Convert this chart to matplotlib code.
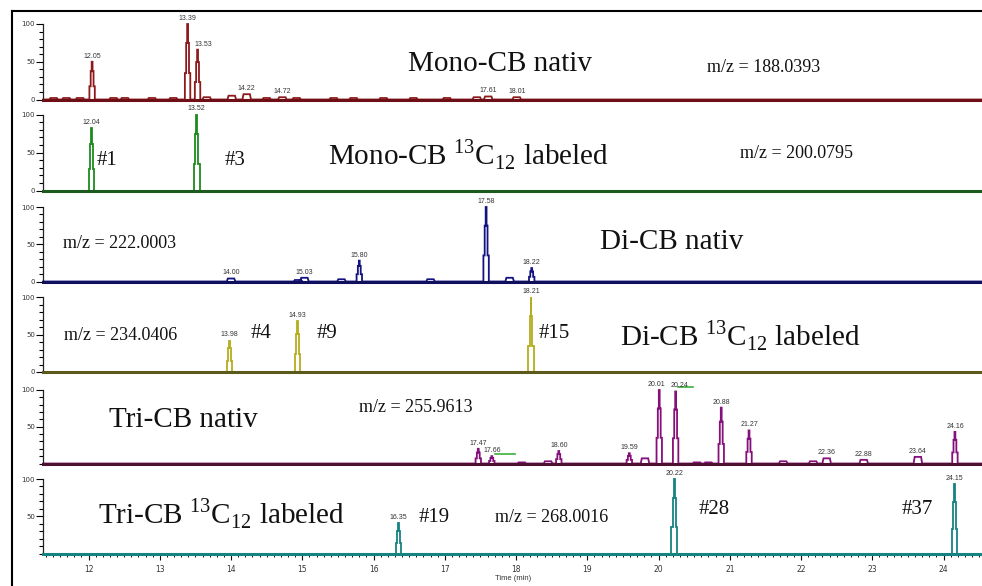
import matplotlib
matplotlib.use("Agg")
import matplotlib.pyplot as plt
from matplotlib.lines import Line2D

plt.rcParams['mathtext.fontset'] = 'custom'
plt.rcParams['mathtext.rm'] = 'Liberation Serif'

# retention times (min) and relative intensities (%)
mono_nat_rt = [12.05, 13.39, 13.53, 14.22, 14.72, 17.61, 18.01]
mono_nat_h = [50, 100, 66, 7, 3, 4, 3]
mono_nat_minor_rt = [11.51, 11.69, 11.88, 12.35, 12.51, 12.89, 13.19, 13.66, 14.01,
                     14.50, 14.92, 15.44, 15.72, 16.14, 16.56, 17.03, 17.45]
mono_nat_minor_h = [2, 2, 2, 2, 2, 2, 2, 3, 5, 2, 2, 2, 2, 2, 2, 2, 3]

mono_lab_rt = [12.04, 13.52]
mono_lab_h = [82, 100]

di_nat_rt = [14.00, 15.03, 15.80, 17.58, 18.22]
di_nat_h = [4, 5, 28, 100, 18]
di_nat_minor_rt = [14.94, 15.55, 16.80, 17.91]
di_nat_minor_h = [2, 3, 3, 5]

di_lab_rt = [13.98, 14.93, 18.21]
di_lab_h = [42, 68, 100]

tri_nat_rt = [17.47, 17.66, 18.60, 19.59, 20.01, 20.24, 20.88, 21.27, 22.36, 22.88, 23.64, 24.16]
tri_nat_h = [20, 10, 17, 14, 100, 98, 76, 45, 7, 5, 9, 43]
tri_nat_minor_rt = [18.08, 18.45, 19.81, 20.54, 20.70, 21.75, 22.17]
tri_nat_minor_h = [1.5, 3, 7, 1.5, 1.5, 3, 3]

tri_lab_rt = [16.35, 20.22, 24.15]
tri_lab_h = [41, 100, 93]

x_ticks = list(range(12, 25))

W, H = 982, 586
X0, X1 = 11.365, 24.54

# labels nudged sideways (points) where peaks crowd together
label_shift = {13.53: 4, 20.01: -2, 20.24: 3}


def fx(px):
    return px / W


def fy(py):
    return 1 - py / H


def trace(rts, hs, a=0.038, b=0.02, c=0.006):
    # stepped peaks like the detector trace; small ones become flat boxes
    xs, ys = [X0], [0]
    for t, h in sorted(zip(rts, hs)):
        if h < 10:
            xs += [t - 0.06, t - 0.045, t + 0.045, t + 0.06]
            ys += [0, h, h, 0]
        else:
            xs += [t - a, t - a, t - b, t - b, t - c, t - c,
                   t + c, t + c, t + b, t + b, t + a, t + a]
            ys += [0, 0.35 * h, 0.35 * h, 0.75 * h, 0.75 * h, h,
                   h, 0.75 * h, 0.75 * h, 0.35 * h, 0.35 * h, 0]
    xs.append(X1)
    ys.append(0)
    return xs, ys


fig = plt.figure(figsize=(W / 100, H / 100), dpi=100)

panels = [
    (24, 99.5, "#8c1a1a", "#6e0f18", mono_nat_rt, mono_nat_h, mono_nat_minor_rt, mono_nat_minor_h, True),
    (114.5, 190.5, "#1e8a1e", "#1d5a1d", mono_lab_rt, mono_lab_h, [], [], True),
    (207, 281.5, "#121280", "#0f0f5e", di_nat_rt, di_nat_h, di_nat_minor_rt, di_nat_minor_h, True),
    (297, 372, "#b4ae1e", "#5c5a1a", di_lab_rt, di_lab_h, [], [], True),
    (390, 463.5, "#86107a", "#4e1030", tri_nat_rt, tri_nat_h, tri_nat_minor_rt, tri_nat_minor_h, False),
    (479, 553.5, "#168282", "#168282", tri_lab_rt, tri_lab_h, [], [], False),
]

axes = []
for i, (y100, y0, col, base_col, rts, hs, mrt, mh, zero_lbl) in enumerate(panels):
    ax = fig.add_axes([fx(43.3), fy(y0), 1 - fx(43.3), (y0 - y100) / H])
    ax.set_facecolor("none")
    ax.set_xlim(X0, X1)
    ax.set_ylim(0, 100)
    xs, ys = trace(list(rts) + list(mrt), list(hs) + list(mh))
    ax.plot(xs, ys, color=col, lw=1.3, clip_on=False, solid_joinstyle='miter')
    for t, h in zip(rts, hs):
        ax.annotate("%.2f" % t, (t, h), xytext=(label_shift.get(t, 0), 1.5),
                    textcoords="offset points", ha="center", va="bottom", fontsize=5,
                    color="#333333", family="Liberation Sans", annotation_clip=False)
    for s in ["top", "right"]:
        ax.spines[s].set_visible(False)
    ax.spines["left"].set_color("#222222")
    ax.spines["left"].set_linewidth(0.9)
    ax.spines["bottom"].set_color(base_col)
    ax.spines["bottom"].set_linewidth(2.2)
    ax.set_yticks([0, 50, 100] if zero_lbl else [50, 100])
    ax.set_yticklabels(["0", "50", "100"] if zero_lbl else ["50", "100"])
    ax.set_yticks(range(0, 101, 10), minor=True)
    ax.tick_params(axis="y", which="major", length=5, width=0.8, labelsize=5,
                   labelcolor="#333333", pad=1)
    ax.tick_params(axis="y", which="minor", length=3, width=0.8)
    if i < 5:
        ax.set_xticks([])
    else:
        ax.set_xticks(x_ticks)
        ax.set_xticks([12 + k * 0.1 for k in range(-6, 126)], minor=True)
        ax.tick_params(axis="x", which="major", length=4, width=0.8, labelsize=5.5,
                       labelcolor="#333333", color="#111111", pad=4)
        ax.tick_params(axis="x", which="minor", length=2.5, width=0.7, color="#111111")
        ax.set_xlabel("Time (min)", fontsize=5.5, color="#333333", labelpad=1,
                      family="Liberation Sans")
    axes.append(ax)

# green marker lines on the Tri-CB nativ trace
axes[4].plot([17.70, 17.98], [13, 13], color="#3cb03c", lw=1.2, clip_on=False)
axes[4].plot([20.27, 20.48], [104, 104], color="#3cb03c", lw=1.2, clip_on=False)

serif = "Liberation Serif"
big = 21
mid = 13


def label(px, py, s, size, ha="center"):
    fig.text(fx(px), fy(py), s, fontsize=size, family=serif, ha=ha, va="center",
             color="#111111")


label(500, 64, "Mono-CB nativ", big)
label(764, 68, "m/z = 188.0393", mid)

label(107, 160, "#1", 15)
label(235, 160, "#3", 15)
label(328, 155, "Mono-CB $^{13}$C$_{12}$ labeled", big, ha="left")
label(797, 153, "m/z = 200.0795", mid)

label(120, 243, "m/z = 222.0003", mid)
label(743, 242, "Di-CB nativ", big, ha="right")

label(121, 336, "m/z = 234.0406", mid)
label(261, 334, "#4", 15)
label(327, 334, "#9", 15)
label(554, 333, "#15", 15)
label(620, 336, "Di-CB $^{13}$C$_{12}$ labeled", big, ha="left")

label(183, 420, "Tri-CB nativ", big)
label(416, 407, "m/z = 255.9613", mid)

label(98, 514, "Tri-CB $^{13}$C$_{12}$ labeled", big, ha="left")
label(434, 518, "#19", 15)
label(552, 517, "m/z = 268.0016", mid)
label(714, 510, "#28", 15)
label(917, 510, "#37", 15)

# outer frame
fig.add_artist(Line2D([fx(12), 1], [fy(11), fy(11)], color="black", lw=1.5))
fig.add_artist(Line2D([fx(12), fx(12)], [fy(11), 0], color="black", lw=1.5))

fig.savefig("out.png", dpi=100)
